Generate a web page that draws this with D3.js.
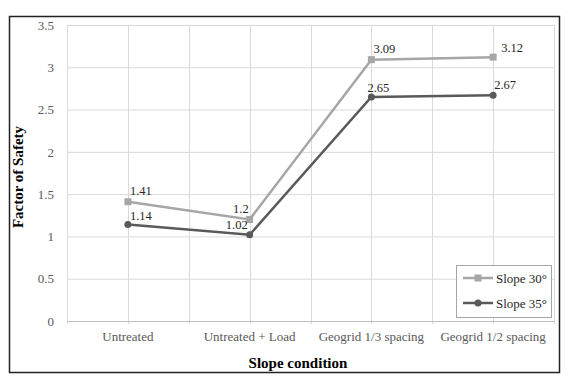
<!DOCTYPE html>
<html>
<head>
<meta charset="utf-8">
<style>
body { margin: 0; background: #fff; }
svg text { font-family: "Liberation Serif", "Times New Roman", Times, "DejaVu Serif", serif !important; }
.tick text { fill: #595959; font-size: 13px; }
.grid line { stroke: #d9d9d9; stroke-width: 1px; }
.title { font-weight: bold; fill: #000; font-size: 15px; }
.lbl { fill: #262626; font-size: 12.5px; }
</style>
</head>
<body>
<script src="https://cdn.jsdelivr.net/npm/d3@7"></script>
<script>

var categories = ["Untreated", "Untreated + Load", "Geogrid 1/3 spacing", "Geogrid 1/2 spacing"];
var slope30 = [1.41, 1.2, 3.09, 3.12];
var slope35 = [1.14, 1.02, 2.65, 2.67];
var yTicks = [0, 0.5, 1, 1.5, 2, 2.5, 3, 3.5];

var width = 572, height = 384;
var margin = {left: 67, right: 18, top: 25, bottom: 63};

var svg = d3.select("body").append("svg")
    .attr("width", width)
    .attr("height", height);

// outer frame
svg.append("rect")
    .attr("x", 9.5).attr("y", 16.5)
    .attr("width", 550).attr("height", 356)
    .attr("fill", "none").attr("stroke", "#222").attr("stroke-width", 1.5);

var x = d3.scaleBand()
    .domain(categories)
    .range([margin.left, width - margin.right]);

var y = d3.scaleLinear()
    .domain([0, 3.5])
    .range([height - margin.bottom, margin.top]);

var cx = function(i) { return x(categories[i]) + x.bandwidth() / 2; };

// horizontal grid
svg.append("g").attr("class", "grid")
  .selectAll("line").data(yTicks.slice(1)).enter().append("line")
    .attr("x1", margin.left).attr("x2", width - margin.right)
    .attr("y1", function(d) { return y(d) + 0.5; })
    .attr("y2", function(d) { return y(d) + 0.5; });

// vertical grid: band edges and centres
var vx = [];
categories.forEach(function(c) { vx.push(x(c)); vx.push(x(c) + x.bandwidth() / 2); });
vx.push(width - margin.right);
svg.append("g").attr("class", "grid")
  .selectAll("line").data(vx).enter().append("line")
    .attr("x1", function(d) { return Math.round(d) + 0.5; })
    .attr("x2", function(d) { return Math.round(d) + 0.5; })
    .attr("y1", margin.top).attr("y2", height - margin.bottom + 3);

// y axis
var yAxis = svg.append("g")
    .attr("class", "y axis")
    .attr("transform", "translate(" + (margin.left - 10) + ",0)")
    .call(d3.axisLeft(y).tickValues(yTicks).tickSize(0).tickPadding(3).tickFormat(d3.format("")));
yAxis.attr("font-family", null).attr("font-size", null);
yAxis.select(".domain").remove();

// x axis
var xAxis = svg.append("g")
    .attr("class", "x axis")
    .attr("transform", "translate(0," + (height - margin.bottom) + ")")
    .call(d3.axisBottom(x).tickSize(0).tickPadding(11));
xAxis.attr("font-family", null).attr("font-size", null);
xAxis.select(".domain").attr("stroke", "#bfbfbf");

// series
var series = [
  {name: "Slope 30\u00b0", values: slope30, color: "#a6a6a6", shape: "square"},
  {name: "Slope 35\u00b0", values: slope35, color: "#595959", shape: "circle"}
];

var line = d3.line()
    .x(function(d, i) { return cx(i); })
    .y(function(d) { return y(d); });

series.forEach(function(s) {
  svg.append("path")
      .datum(s.values)
      .attr("fill", "none")
      .attr("stroke", s.color)
      .attr("stroke-width", 2.5)
      .attr("d", line);
  var g = svg.append("g");
  s.values.forEach(function(v, i) {
    if (s.shape == "square") {
      g.append("rect")
        .attr("x", cx(i) - 3.5).attr("y", y(v) - 3.5)
        .attr("width", 7).attr("height", 7)
        .attr("fill", s.color);
    } else {
      g.append("circle")
        .attr("cx", cx(i)).attr("cy", y(v)).attr("r", 3.5)
        .attr("fill", s.color);
    }
  });
});

// data labels (dx, dy, anchor per point)
var off30 = [[2, -7, "start"], [-1, -7, "end"], [2, -7, "start"], [8, -5, "start"]];
var off35 = [[2, -5, "start"], [-2, -6, "end"], [-4, -5, "start"], [1, -6, "start"]];
[[slope30, off30], [slope35, off35]].forEach(function(p) {
  p[0].forEach(function(v, i) {
    svg.append("text")
        .attr("class", "lbl")
        .attr("x", cx(i) + p[1][i][0])
        .attr("y", y(v) + p[1][i][1])
        .attr("text-anchor", p[1][i][2])
        .text(v);
  });
});

// axis titles
svg.append("text")
    .attr("class", "title")
    .attr("x", 298)
    .attr("y", 368)
    .attr("text-anchor", "middle")
    .text("Slope condition");

svg.append("text")
    .attr("class", "title")
    .attr("transform", "translate(23,177) rotate(-90)")
    .attr("text-anchor", "middle")
    .text("Factor of Safety");

// legend
var legend = svg.append("g").attr("transform", "translate(456,265)");
legend.append("rect")
    .attr("x", 0.5).attr("y", 0.5)
    .attr("width", 95).attr("height", 52)
    .attr("fill", "#fff").attr("stroke", "#a6a6a6");
series.forEach(function(s, i) {
  var ly = 13 + i * 25;
  legend.append("line")
      .attr("x1", 7).attr("x2", 37)
      .attr("y1", ly).attr("y2", ly)
      .attr("stroke", s.color).attr("stroke-width", 2.5);
  if (s.shape == "square") {
    legend.append("rect").attr("x", 22 - 3.5).attr("y", ly - 3.5)
      .attr("width", 7).attr("height", 7).attr("fill", s.color);
  } else {
    legend.append("circle").attr("cx", 22).attr("cy", ly).attr("r", 3.5).attr("fill", s.color);
  }
  legend.append("text")
      .attr("x", 40).attr("y", ly + 4.5)
      .attr("fill", "#262626")
      .style("font-size", "13px")
      .text(s.name);
});

</script>
</body>
</html>
